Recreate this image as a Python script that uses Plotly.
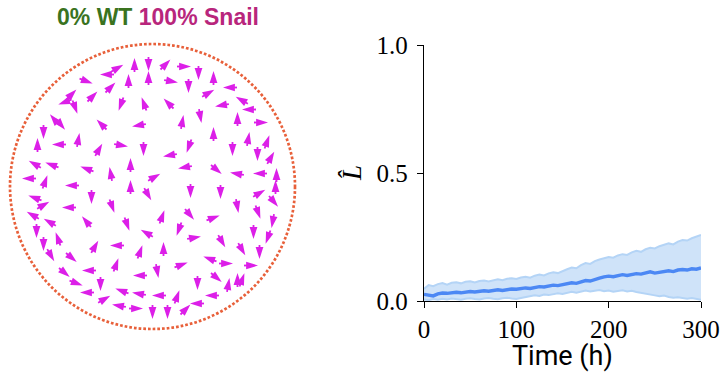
import numpy as np
import plotly.graph_objects as go

# ---- Left panel: cell snapshot inside the circular arena ----
arena_radius = 142.5

cell_x = [-18, -4, 14, 33, -34, -47, -65, -24, -4, 20, 46, 61, -41, -59, -80, -89, -77, -32, -9, 15,
          36, 57, 76, 68, 85, 48, 30, 61, 80, 36, 16, -9, -30, -53, -74, -91, -52, -15, -22, -42,
          -67, -82, 3, 31, 65, 83, -22, -61, -4, 38, 68, 85, -85, -40, -67, 10, 38, 62, -25, -7,
          26, 43, 70, -57, -37, -12, 11, -80, -36, 30, 56, 75, -87, -65, -14, 5, 65, 85, -75, -52,
          -32, -15, 5, 25, 45, 58, 76, -67, -47, -35, -15, 0, 15, 34, 43, -99, -109, -115, -95, -119,
          -102, -125, -107, -119, -108, -121, -104, -116, -95, -109, -101, 88, 95, 110, 96, 115, 105, 119, 124, 106,
          123, 108, 122, 106, 120, 101, 115, 90, 107, 100, 90]
cell_y = [123, 121, 123, 120, 119, 112, 105, 107, 110, 105, 112, 110, 100, 91, 93, 84, 78, 81, 84, 84,
          99, 94, 99, 81, 69, 69, 66, 54, 36, 39, 31, 36, 41, 38, 48, 61, 63, 61, 23, 14,
          18, 1, 10, 19, 16, 13, 1, -12, -9, -6, -7, -21, -21, -21, -34, -29, -29, -31, -39, -46,
          -44, -51, -56, -59, -59, -64, -61, -72, -77, -78, -72, -77, -87, -84, -89, -86, -92, -92, -97, -99,
          -104, -107, -109, -109, -98, -109, -97, -106, -112, -119, -122, -127, -127, -122, -117, 68, 53, 43, 42, 23,
          22, 8, 6, -11, -18, -28, -35, -46, -51, -59, -70, 87, 77, 64, 49, 46, 31, 30, 13, 13,
          1, -6, -16, -27, -36, -47, -52, -64, -67, -79, -92]
# heading in degrees, clockwise from north
cell_heading = [0, 180, 45, 90, 60, 270, 110, 0, 0, 100, 180, 0, 45, 45, 45, 250, 160, 200, 340, 315,
                180, 60, 270, 260, 0, 170, 10, 0, 180, 200, 260, 180, 100, 30, 10, 140, 315, 260, 0, 350,
                290, 270, 60, 260, 130, 280, 0, 180, 150, 180, 180, 170, 270, 160, 320, 20, 140, 70, 160, 300,
                200, 80, 150, 30, 270, 20, 0, 130, 20, 70, 290, 90, 130, 270, 270, 170, 130, 0, 110, 180,
                290, 280, 270, 20, 180, 270, 10, 270, 60, 280, 90, 180, 180, 45, 270, 320, 180, 0, 270, 300,
                290, 270, 20, 290, 60, 300, 300, 180, 340, 180, 150, 300, 270, 90, 10, 20, 180, 30, 0, 270,
                0, 60, 140, 160, 190, 180, 200, 150, 180, 90, 20]

# ---- Right panel: order parameter over time ----
time_h = list(range(0, 301, 5))
l_mean = [.026, .022, .020, .028, .031, .030, .033, .034, .032, .036, .037, .035, .039, .040, .038, .042,
          .044, .041, .045, .047, .046, .049, .051, .049, .054, .056, .055, .060, .062, .060, .064, .068,
          .071, .069, .076, .080, .078, .085, .089, .094, .097, .095, .099, .103, .100, .104, .107, .105,
          .110, .114, .109, .112, .116, .118, .115, .121, .123, .121, .126, .124, .129]
l_upper = [.048, .062, .058, .066, .070, .064, .071, .073, .069, .075, .077, .072, .078, .080, .076, .082,
           .085, .081, .087, .089, .086, .092, .095, .091, .099, .103, .100, .108, .112, .109, .118, .124,
           .131, .128, .140, .148, .145, .156, .162, .168, .172, .169, .178, .183, .180, .190, .196, .192,
           .202, .208, .205, .214, .220, .225, .221, .232, .238, .236, .245, .252, .258]
l_lower = [.006, .003, .008, .005, .009, .006, .010, .007, .005, .009, .011, .008, .006, .010, .012, .009,
           .007, .011, .013, .010, .008, .012, .016, .018, .022, .020, .025, .023, .028, .030, .027, .033,
           .036, .032, .038, .041, .037, .040, .043, .038, .041, .036, .039, .042, .037, .040, .035, .031,
           .028, .025, .022, .019, .021, .016, .013, .015, .011, .009, .012, .007, .005]

x_ticks = [0, 100, 200, 300]
y_ticks = [0, 0.5, 1.0]
y_tick_text = ["0.0", "0.5", "1.0"]

CELL_COLOR = "#dc1fe8"
WALL_COLOR = "#e8603a"
W, H = 723, 381

fig = go.Figure()

# cells: arrowhead marker at the front, short tail behind
cx = np.array(cell_x, float)
cy = np.array(cell_y, float)
hd = np.radians(np.array(cell_heading, float))
ux, uy = np.sin(hd), np.cos(hd)
tip_x, tip_y = cx + 5.5 * ux, cy + 5.5 * uy
tail_x, tail_y = [], []
for x0, y0, dx, dy in zip(cx, cy, ux, uy):
    tail_x += [x0 - 3 * dx, x0 - 8.5 * dx, None]
    tail_y += [y0 - 3 * dy, y0 - 8.5 * dy, None]

fig.add_trace(go.Scatter(x=tail_x, y=tail_y, mode="lines", xaxis="x2", yaxis="y2",
                         line=dict(color=CELL_COLOR, width=1.8), hoverinfo="skip"))
fig.add_trace(go.Scatter(x=tip_x, y=tip_y, mode="markers", xaxis="x2", yaxis="y2",
                         marker=dict(symbol="arrow", size=12.5, angle=list(cell_heading),
                                     color=CELL_COLOR, line=dict(width=0))))

# arena wall
fig.add_shape(type="circle", xref="x2", yref="y2",
              x0=-arena_radius, y0=-arena_radius, x1=arena_radius, y1=arena_radius,
              line=dict(color=WALL_COLOR, width=2.7, dash="2.7px,2px"))

# band and mean
BAND_EDGE = "#b4d4f6"
fig.add_trace(go.Scatter(x=time_h, y=l_lower, mode="lines",
                         line=dict(color=BAND_EDGE, width=2), hoverinfo="skip"))
fig.add_trace(go.Scatter(x=time_h, y=l_upper, mode="lines", fill="tonexty",
                         fillcolor="#cfe3f9", line=dict(color=BAND_EDGE, width=2), hoverinfo="skip"))
fig.add_trace(go.Scatter(x=time_h, y=l_mean, mode="lines",
                         line=dict(color="#4c88f4", width=3.4)))

tick_font = dict(family="Liberation Serif", size=25, color="black")
axis_common = dict(showgrid=False, zeroline=False, showline=True, linecolor="black", linewidth=1.3,
                   ticks="outside", ticklen=6, tickwidth=1.3, tickcolor="black", tickfont=tick_font,
                   automargin=False)

fig.update_layout(
    width=W, height=H, margin=dict(l=0, r=0, t=0, b=0, autoexpand=False),
    paper_bgcolor="white", plot_bgcolor="white", showlegend=False,
    xaxis=dict(domain=[424 / W, 701 / W], range=[0, 300], tickvals=x_ticks,
               anchor="y", **axis_common),
    yaxis=dict(domain=[(H - 301) / H, (H - 45) / H], range=[0, 1], tickvals=y_ticks,
               ticktext=y_tick_text, anchor="x", ticklabelstandoff=4, **axis_common),
    xaxis2=dict(domain=[5 / W, 300 / W], range=[-147.5, 147.5], visible=False, anchor="y2",
                automargin=False),
    yaxis2=dict(domain=[(H - 334) / H, (H - 39) / H], range=[-147.5, 147.5], visible=False,
                anchor="x2", automargin=False),
)

fig.add_annotation(xref="paper", yref="paper", x=157.5 / W, y=(H - 17) / H, showarrow=False,
                   xanchor="center", yanchor="middle",
                   text='<b><span style="color:#3a731f">0% WT</span> '
                        '<span style="color:#b8267c">100% Snail</span></b>',
                   font=dict(family="Liberation Sans", size=23))
fig.add_annotation(xref="paper", yref="paper", x=352 / W, y=(H - 173) / H, showarrow=False,
                   xanchor="center", yanchor="middle", textangle=-90,
                   text="<i>L\u0302</i>", font=dict(family="Liberation Serif", size=27, color="black"))
fig.add_annotation(xref="paper", yref="paper", x=562.5 / W, y=(H - 356) / H, showarrow=False,
                   xanchor="center", yanchor="middle", text="Time (h)",
                   font=dict(family="Roboto", size=27, color="black"))

fig.write_html("out.html")
